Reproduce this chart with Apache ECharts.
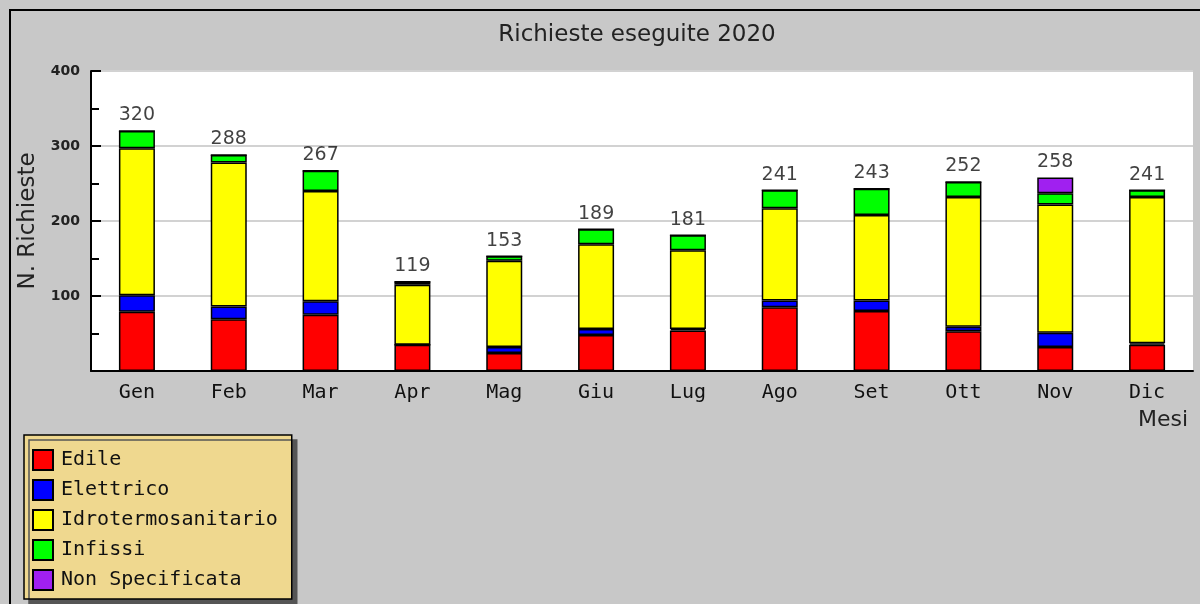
<!DOCTYPE html>
<html>
<head>
<meta charset="utf-8">
<script src="https://cdn.jsdelivr.net/npm/echarts@6/dist/echarts.min.js"></script>
<style>
  html, body { margin: 0; padding: 0; background: #c8c8c8; }
  #main { width: 1200px; height: 604px; }
</style>
</head>
<body>
<div id="main"></div>
<script>
var mesi = ['Gen', 'Feb', 'Mar', 'Apr', 'Mag', 'Giu', 'Lug', 'Ago', 'Set', 'Ott', 'Nov', 'Dic'];
var edile = [79, 69, 75, 35, 24, 48, 54, 85, 80, 53, 32, 35];
var elettrico = [22, 17, 18, 0, 8, 8, 2, 9, 14, 6, 19, 2];
var idro = [196, 192, 147, 80, 115, 113, 105, 123, 114, 173, 171, 195];
var infissi = [23, 10, 27, 4, 6, 20, 20, 24, 35, 20, 15, 9];
var nonSpec = [0, 0, 0, 0, 0, 0, 0, 0, 0, 0, 21, 0];
var yTicks = [0, 100, 200, 300, 400];

// totali sopra le barre
var totali = mesi.map(function (m, i) {
  return edile[i] + elettrico[i] + idro[i] + infissi[i] + nonSpec[i];
});

var myChart = echarts.init(document.getElementById('main'));

function barSerie(nome, dati, colore) {
  return {
    name: nome,
    type: 'bar',
    stack: 'tot',
    barWidth: 36,
    data: dati,
    itemStyle: { color: colore, borderColor: '#000', borderWidth: 1.5 }
  };
}

var option = {
  backgroundColor: '#c8c8c8',
  animation: false,
  title: {
    text: 'Richieste eseguite 2020',
    left: 632,
    top: 19,
    textAlign: 'center',
    textStyle: { fontFamily: 'DejaVu Sans', fontSize: 23, fontWeight: 'normal', color: '#222' }
  },
  graphic: [{
    type: 'rect',
    shape: { x: 10, y: 10, width: 1200, height: 600 },
    style: { fill: 'none', stroke: '#000', lineWidth: 2 },
    z: -1
  }],
  legend: {
    data: ['Edile', 'Elettrico', 'Idrotermosanitario', 'Infissi', 'Non Specificata'],
    orient: 'vertical',
    left: 24,
    top: 435,
    height: 160,
    padding: [14, 14, 8, 8],
    itemWidth: 20,
    itemHeight: 20,
    itemGap: 8,
    icon: 'rect',
    backgroundColor: '#efd88f',
    borderColor: '#000',
    borderWidth: 1.5,
    shadowColor: '#555',
    shadowOffsetX: 5,
    shadowOffsetY: 5,
    shadowBlur: 0,
    textStyle: { fontFamily: 'DejaVu Sans Mono', fontSize: 20, color: '#111', padding: [0, 0, 0, 3] }
  },
  grid: { left: 91, right: 7, top: 71, bottom: 233, show: true, backgroundColor: '#fff', borderWidth: 0 },
  xAxis: {
    type: 'category',
    data: mesi,
    name: 'Mesi',
    nameLocation: 'end',
    nameGap: -5,
    nameTextStyle: { fontFamily: 'DejaVu Sans', fontSize: 22, color: '#222', align: 'right', verticalAlign: 'top', padding: [38, 0, 0, 0] },
    axisLine: { lineStyle: { color: '#000', width: 2 } },
    axisTick: { show: false },
    axisLabel: { fontFamily: 'DejaVu Sans Mono', fontSize: 20, color: '#111', margin: 12 }
  },
  yAxis: {
    type: 'value',
    min: yTicks[0],
    max: yTicks[yTicks.length - 1],
    interval: 100,
    name: 'N. Richieste',
    nameLocation: 'middle',
    nameGap: 44,
    nameTextStyle: { fontFamily: 'DejaVu Sans', fontSize: 23, color: '#222' },
    axisLine: { show: true, lineStyle: { color: '#000', width: 2 } },
    axisTick: { show: true, inside: true, length: 10, lineStyle: { color: '#000', width: 2 } },
    minorTick: { show: true, splitNumber: 2, length: 8, lineStyle: { color: '#000', width: 2 } },
    splitLine: { lineStyle: { color: '#d2d2d2', width: 2 } },
    axisLabel: {
      fontFamily: 'DejaVu Sans', fontSize: 14, fontWeight: 'bold', color: '#222', margin: 11,
      formatter: function (v) { return v === 0 ? '' : v; }
    }
  },
  series: [
    barSerie('Edile', edile, '#ff0000'),
    barSerie('Elettrico', elettrico, '#0000ff'),
    barSerie('Idrotermosanitario', idro, '#ffff00'),
    barSerie('Infissi', infissi, '#00ff00'),
    barSerie('Non Specificata', nonSpec, '#a020f0'),
    {
      name: 'Totale',
      type: 'scatter',
      data: totali,
      symbolSize: 0,
      silent: true,
      label: {
        show: true, position: 'top', distance: 6,
        fontFamily: 'DejaVu Sans', fontSize: 19, color: '#111'
      }
    }
  ]
};

myChart.setOption(option);
</script>
</body>
</html>
